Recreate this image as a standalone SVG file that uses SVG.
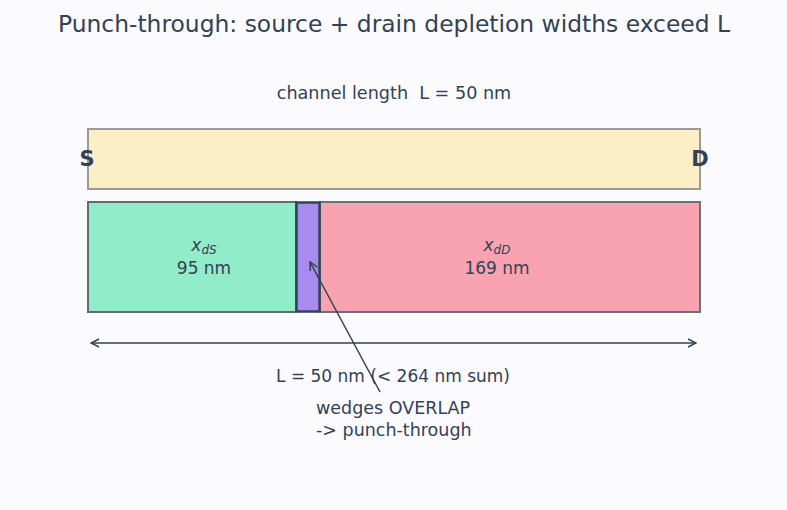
<svg xmlns="http://www.w3.org/2000/svg" width="787" height="510" viewBox="0 0 787 510">
<style>
text { font-family: "DejaVu Sans", "Liberation Sans", sans-serif; fill: #334155; }
.lbl { font-size: 17px; }
.big { font-size: 21px; font-weight: bold; }
.conn { stroke: #334155; stroke-width: 1.5; fill: none; }
</style>
<defs>
<marker id="ah" viewBox="0 0 10 10" refX="9" refY="5" markerWidth="10" markerHeight="10" markerUnits="userSpaceOnUse" orient="auto-start-reverse">
<path d="M1,1 L9,5 L1,9" fill="none" stroke="#334155" stroke-width="1.5"/>
</marker>
</defs>
<rect width="787" height="510" fill="#fbfbfe"/>
<text x="394" y="32" text-anchor="middle" font-size="23.4">Punch-through: source + drain depletion widths exceed L</text>
<text x="394" y="99" text-anchor="middle" font-size="17.6" xml:space="preserve">channel length  L = 50 nm</text>
<g id="channel">
<rect x="88" y="129" width="612" height="60" fill="#fdefc5" stroke="#9a9a9a" stroke-width="2"/>
<text x="87" y="166" text-anchor="middle" class="big">S</text>
<text x="700" y="166" text-anchor="middle" class="big">D</text>
</g>
<g id="source-depletion">
<rect x="88" y="202" width="208" height="110" fill="#91ecc9" stroke="#5d6e70" stroke-width="2"/>
<text x="204" y="251" text-anchor="middle" class="lbl"><tspan font-style="italic">x</tspan><tspan font-size="12" font-style="italic" dy="3">dS</tspan></text>
<text x="204" y="274" text-anchor="middle" class="lbl">95 nm</text>
</g>
<g id="drain-depletion">
<rect x="320" y="202" width="380" height="110" fill="#f9a3b0" stroke="#6e6e7e" stroke-width="2"/>
<text x="497" y="251" text-anchor="middle" class="lbl"><tspan font-style="italic">x</tspan><tspan font-size="12" font-style="italic" dy="3">dD</tspan></text>
<text x="497" y="274" text-anchor="middle" class="lbl">169 nm</text>
</g>
<g id="overlap">
<rect x="296.5" y="202.5" width="23" height="109" fill="#a78bef" stroke="#334155" stroke-width="2.5"/>
</g>
<g id="connectors">
<line x1="91" y1="343" x2="696" y2="343" class="conn" marker-start="url(#ah)" marker-end="url(#ah)"/>
<line x1="380" y1="392" x2="310" y2="262" class="conn" marker-end="url(#ah)"/>
</g>
<text x="393" y="382" text-anchor="middle" class="lbl">L = 50 nm (&lt; 264 nm sum)</text>
<text x="316" y="414" font-size="17.5">wedges OVERLAP</text>
<text x="316" y="436" font-size="17.5">-&gt; punch-through</text>
</svg>
